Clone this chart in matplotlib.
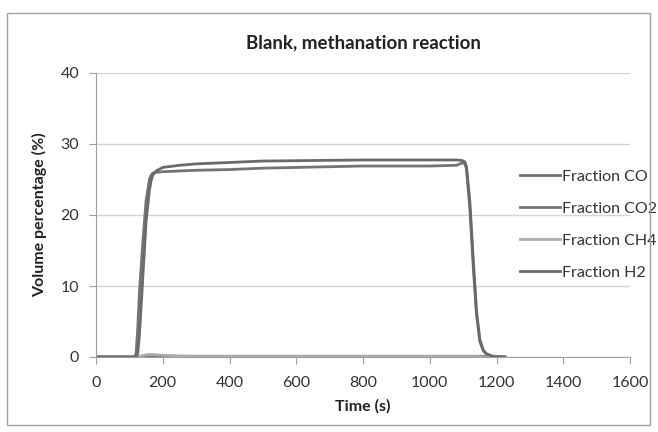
import numpy as np
import matplotlib.pyplot as plt
from matplotlib.patches import Rectangle

plt.rcParams['font.family'] = ['Lato', 'DejaVu Sans']

# time (s)
t = [0, 115, 120, 125, 130, 140, 150, 160, 165, 170, 180, 200, 250, 300, 400, 500,
     600, 700, 800, 900, 1000, 1080, 1095, 1105, 1110, 1120, 1130, 1140, 1150,
     1160, 1170, 1185, 1200, 1225]

co = [0, 0, 0, 0, 0.05, 0.1, 0.1, 0.1, 0.1, 0.1, 0.1, 0.1, 0.1, 0.1, 0.1, 0.1,
      0.1, 0.1, 0.1, 0.1, 0.1, 0.1, 0.1, 0.1, 0.1, 0.1, 0.1, 0.1, 0.1,
      0.1, 0.05, 0, 0, 0]
co2 = [0, 0, 0.5, 4, 9, 16, 22, 25, 25.6, 25.9, 26.0, 26.1, 26.2, 26.3, 26.4, 26.6,
       26.7, 26.8, 26.9, 26.9, 26.9, 27.0, 27.3, 27.3, 26.5, 21, 13, 6, 2.2,
       0.9, 0.4, 0.15, 0.05, 0]
ch4 = [0, 0, 0, 0, 0.1, 0.2, 0.3, 0.35, 0.35, 0.35, 0.3, 0.25, 0.15, 0.1, 0.1, 0.1,
       0.1, 0.1, 0.1, 0.1, 0.1, 0.1, 0.1, 0.1, 0.1, 0.1, 0.1, 0.05, 0.05,
       0, 0, 0, 0, 0]
h2 = [0, 0, 0, 0.5, 3, 11, 19, 23.5, 24.8, 25.6, 26.2, 26.7, 27.0, 27.2, 27.4, 27.6,
      27.65, 27.7, 27.75, 27.75, 27.75, 27.75, 27.7, 27.5, 26.8, 22, 14, 6.5, 2.5,
      1.0, 0.45, 0.15, 0.05, 0]

series = [("Fraction CO", co, "#6f6f6f"),
          ("Fraction CO2", co2, "#747474"),
          ("Fraction CH4", ch4, "#ababab"),
          ("Fraction H2", h2, "#6a6a6a")]

fig = plt.figure(figsize=(6.58, 4.32), dpi=100)
ax = fig.add_axes([96/658, 1-357/432, 534/658, 284/432])

for name, y, c in series:
    ax.plot(t, y, color=c, lw=2.0, label=name)

ax.set_xlim(0, 1600)
ax.set_ylim(0, 40)
ax.set_xticks(np.arange(0, 1601, 200))
ax.set_yticks(np.arange(0, 41, 10))
ax.grid(axis='y', color='#d4d4d4', lw=1)
ax.set_axisbelow(True)
for s in ['top', 'right']:
    ax.spines[s].set_visible(False)
for s in ['left', 'bottom']:
    ax.spines[s].set_color('#a0a0a0')
ax.tick_params(axis='both', colors='#a0a0a0', labelcolor='#333333',
               labelsize=11.5, length=5)
ax.tick_params(axis='x', pad=9)
ax.tick_params(axis='y', pad=7)
ax.set_xlabel("Time (s)", fontsize=11.5, fontweight='bold', color='#222222', labelpad=6)
ax.set_ylabel("Volume percentage (%)", fontsize=11.5, fontweight='bold', color='#222222', labelpad=10)
ax.set_title("Blank, methanation reaction", fontsize=13.5, fontweight='bold',
             color='#222222', pad=18)

leg = ax.legend(loc='upper left', bbox_to_anchor=(418/534, 194/284), frameon=False,
                fontsize=11.5, handlelength=2.5, handletextpad=0.1,
                labelspacing=1.12, borderaxespad=0)
for txt in leg.get_texts():
    txt.set_color('#333333')

fig.patches.append(Rectangle((7/658, 1-425/432), 643/658, 412/432,
                             transform=fig.transFigure, fill=False,
                             edgecolor='#a0a0a0', lw=1))

fig.savefig("out.png", dpi=100)
